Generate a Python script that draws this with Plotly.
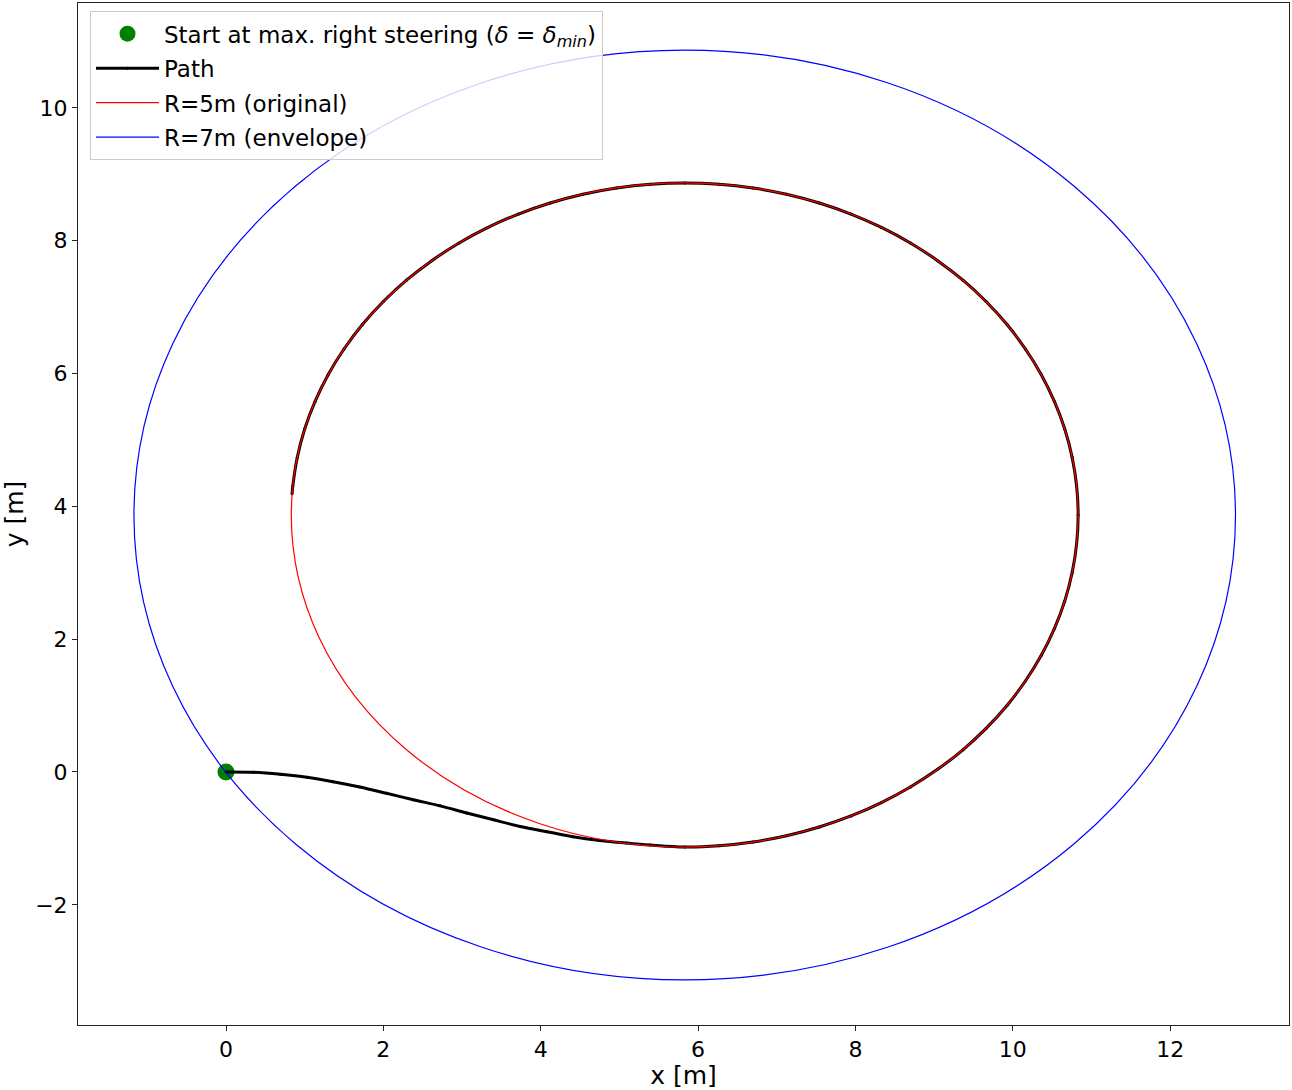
import plotly.graph_objects as go

# start point
start_x = [0.0]
start_y = [0.0]

# path: lead-in, then around the R=5 circle
path_x = [0.0, 0.35, 0.69, 1.03, 1.36, 1.70, 2.04, 2.38, 2.72, 3.06, 3.40, 3.74, 4.08,
          4.41, 4.75, 5.09, 5.39, 5.83, 6.266, 6.698, 7.124, 7.540, 7.943, 8.330, 8.698,
          9.044, 9.366, 9.660, 9.926, 10.160, 10.362, 10.528, 10.660, 10.754, 10.811,
          10.830, 10.811, 10.754, 10.660, 10.528, 10.362, 10.160, 9.926, 9.660, 9.366,
          9.044, 8.698, 8.330, 7.943, 7.540, 7.124, 6.698, 6.266, 5.830, 5.394, 4.962,
          4.536, 4.120, 3.717, 3.330, 2.962, 2.616, 2.294, 2.000, 1.734, 1.500, 1.298,
          1.132, 1.000, 0.906, 0.849, 0.840]
path_y = [0.0, -0.005, -0.035, -0.08, -0.146, -0.226, -0.32, -0.417, -0.51, -0.617, -0.72,
          -0.82, -0.90, -0.974, -1.03, -1.07, -1.10, -1.13, -1.111, -1.054, -0.960, -0.828,
          -0.662, -0.460, -0.226, 0.040, 0.334, 0.656, 1.002, 1.370, 1.757, 2.160, 2.576,
          3.002, 3.434, 3.870, 4.306, 4.738, 5.164, 5.580, 5.983, 6.370, 6.738, 7.084,
          7.406, 7.700, 7.966, 8.200, 8.402, 8.568, 8.700, 8.794, 8.851, 8.870, 8.851,
          8.794, 8.700, 8.568, 8.402, 8.200, 7.966, 7.700, 7.406, 7.084, 6.738, 6.370,
          5.983, 5.580, 5.164, 4.738, 4.306, 4.190]

# circles: centre and radii
circle_cx = 5.83
circle_cy = 3.87
radii = [5, 7]
circle_names = ["R=5m (original)", "R=7m (envelope)"]
circle_colors = ["red", "blue"]

x_ticks = [0, 2, 4, 6, 8, 10, 12]
y_ticks = [-2, 0, 2, 4, 6, 8, 10]

fnt = "DejaVu Sans"

fig = go.Figure()

fig.add_trace(go.Scatter(
    x=start_x, y=start_y, mode="markers",
    marker=dict(color="green", size=17), legendgroup="g1",
    name="Start at max. right steering (<i>δ</i> = <i>δ</i><sub><i>min</i></sub>)"))

fig.add_trace(go.Scatter(
    x=path_x, y=path_y, mode="lines+markers",
    line=dict(color="black", width=3, shape="spline"),
    marker=dict(color="black", size=3), legendgroup="g2",
    name="Path"))

for i, r in enumerate(radii):
    fig.add_shape(
        type="circle", xref="x", yref="y",
        x0=circle_cx - r, x1=circle_cx + r,
        y0=circle_cy - r, y1=circle_cy + r,
        line=dict(color=circle_colors[i], width=1.2),
        layer="above")
    # legend entry only
    fig.add_trace(go.Scatter(
        x=[None], y=[None], mode="lines",
        line=dict(color=circle_colors[i], width=1.2),
        legendgroup=f"g{3 + i}", name=circle_names[i]))

axis_common = dict(
    showgrid=False, zeroline=False, showline=True, linecolor="#222",
    linewidth=1, mirror=True, ticks="outside", ticklen=5, tickcolor="#222",
    automargin=False,
    tickfont=dict(size=22, color="black", family=fnt))

fig.update_xaxes(range=[-1.881, 13.51], tickvals=x_ticks,
                 title=dict(text="x [m]", font=dict(size=25, color="black", family=fnt),
                            standoff=4),
                 **axis_common)
fig.update_yaxes(range=[-3.81, 11.58], tickvals=y_ticks,
                 title=dict(text="y [m]", font=dict(size=25, color="black", family=fnt),
                            standoff=8),
                 **axis_common)

fig.update_layout(
    width=1292, height=1090,
    margin=dict(l=78, r=3, t=3, b=65),
    plot_bgcolor="white", paper_bgcolor="white",
    font=dict(family=fnt, size=22, color="black"),
    legend=dict(x=0.0099, y=0.992, xanchor="left", yanchor="top",
                bgcolor="rgba(255,255,255,0.8)", bordercolor="#ccc", borderwidth=1,
                font=dict(size=23, family=fnt), traceorder="grouped",
                tracegroupgap=1.6, itemwidth=63),
)

# drop the page's default body margin so the figure sits at the window corner
fig.write_html("out.html", config={"displayModeBar": False},
               post_script="document.body.style.margin='0';")
